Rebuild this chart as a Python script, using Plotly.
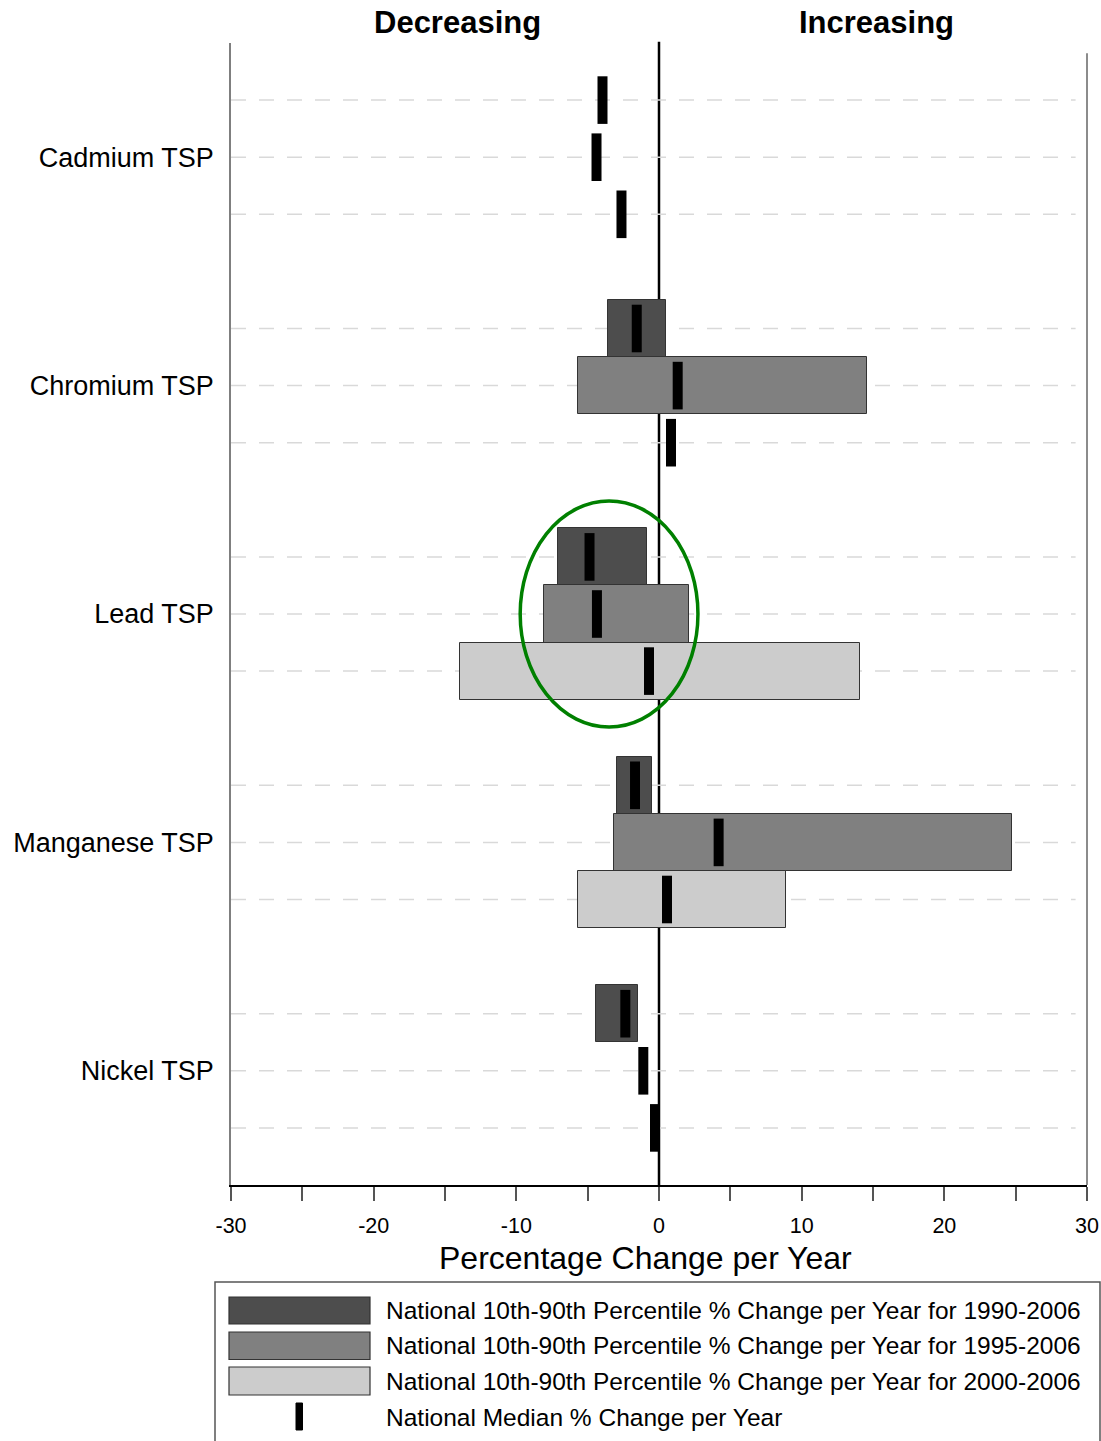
import plotly.graph_objects as go

# ---------------- data ----------------
categories = ["Cadmium TSP", "Chromium TSP", "Lead TSP", "Manganese TSP", "Nickel TSP"]

p10_1990 = [None, -3.56, -7.09, -2.96, -4.43]
p90_1990 = [None, 0.50, -0.83, -0.48, -1.49]
p10_1995 = [None, -5.69, -8.09, -3.17, None]
p90_1995 = [None, 14.56, 2.12, 24.72, None]
p10_2000 = [None, None, -13.98, -5.69, None]
p90_2000 = [None, None, 14.10, 8.91, None]

med_1990 = [-3.96, -1.56, -4.87, -1.68, -2.36]
med_1995 = [-4.38, 1.31, -4.35, 4.18, -1.10]
med_2000 = [-2.63, 0.84, -0.70, 0.56, -0.28]

x_tick_vals = [-30, -25, -20, -15, -10, -5, 0, 5, 10, 15, 20, 25, 30]
x_tick_text = ["-30", "", "-20", "", "-10", "", "0", "", "10", "", "20", "", "30"]

legend_labels = [
    "National 10th-90th Percentile % Change per Year for 1990-2006",
    "National 10th-90th Percentile % Change per Year for 1995-2006",
    "National 10th-90th Percentile % Change per Year for 2000-2006",
    "National Median % Change per Year",
]

colors = ["#4d4d4d", "#808080", "#cccccc"]
FONT = "Arial, Liberation Sans, sans-serif"

# y positions: category centre, sub-rows above/below
centers = [-4 * i for i in range(len(categories))]
offsets = [1, 0, -1]

fig = go.Figure()

periods = [(p10_1990, p90_1990), (p10_1995, p90_1995), (p10_2000, p90_2000)]
for k, (lo, hi) in enumerate(periods):
    ys, bases, lens = [], [], []
    for i, c in enumerate(centers):
        if lo[i] is not None and hi[i] is not None:
            ys.append(c + offsets[k])
            bases.append(lo[i])
            lens.append(hi[i] - lo[i])
    fig.add_trace(go.Bar(
        y=ys, x=lens, base=bases, orientation="h", width=1.0,
        marker=dict(color=colors[k], line=dict(color="#333333", width=1)),
        showlegend=False, hoverinfo="skip",
    ))

for k, med in enumerate([med_1990, med_1995, med_2000]):
    fig.add_trace(go.Scatter(
        x=med, y=[c + offsets[k] for c in centers], mode="markers",
        marker=dict(symbol="line-ns", size=34, color="black",
                    line=dict(color="black", width=10)),
        showlegend=False, hoverinfo="skip",
    ))

shapes = []
# dashed row lines
for c in centers:
    for o in offsets:
        shapes.append(dict(type="line", xref="x", yref="y", x0=-30, x1=29.2,
                           y0=c + o, y1=c + o, layer="below",
                           line=dict(color="#d9d9d9", width=1.5, dash="15px,13px")))
# zero line
shapes.append(dict(type="line", xref="x", yref="paper", x0=0, x1=0, y0=0, y1=1.001,
                   layer="below", line=dict(color="black", width=2.5)))
# right border line
shapes.append(dict(type="line", xref="paper", yref="paper", x0=1, x1=1, y0=0, y1=0.991,
                   line=dict(color="#666666", width=1.5)))
# green ellipse
shapes.append(dict(type="circle", xref="x", yref="y", x0=-9.73, x1=2.73, y0=-9.98, y1=-6.02,
                   line=dict(color="#008000", width=3.5)))

# manual legend (paper coords)
def px_x(p):
    return (p - 231) / 856.0

def px_y(p):
    return (1185 - p) / 1142.0

shapes.append(dict(type="rect", xref="paper", yref="paper",
                   x0=px_x(215), x1=px_x(1100), y0=px_y(1282), y1=px_y(1450),
                   line=dict(color="#555555", width=1.5), fillcolor="rgba(0,0,0,0)"))
sw_rows = [(1297, 1324), (1332, 1359.5), (1367, 1395)]
for k, (t, b) in enumerate(sw_rows):
    shapes.append(dict(type="rect", xref="paper", yref="paper",
                       x0=px_x(229), x1=px_x(370), y0=px_y(b), y1=px_y(t),
                       fillcolor=colors[k], line=dict(color="#333333", width=1.2)))
shapes.append(dict(type="rect", xref="paper", yref="paper",
                   x0=px_x(296), x1=px_x(302.5), y0=px_y(1430), y1=px_y(1403),
                   fillcolor="black", line=dict(color="black", width=1)))

annotations = []
for k, (lab, yc) in enumerate(zip(legend_labels, [1310, 1345, 1381, 1417])):
    annotations.append(dict(text=lab, xref="paper", yref="paper", x=px_x(384), y=px_y(yc),
                            xanchor="left", yanchor="middle", showarrow=False,
                            font=dict(family=FONT, size=24.5, color="black")))

annotations.append(dict(text="Percentage Change per Year", xref="paper", yref="paper",
                        x=px_x(645), y=px_y(1258), xanchor="center", yanchor="middle",
                        showarrow=False, font=dict(family=FONT, size=32, color="black")))
annotations.append(dict(text="<b>Decreasing</b>", xref="paper", yref="paper",
                        x=px_x(457), y=px_y(23), xanchor="center", yanchor="middle",
                        showarrow=False, font=dict(family=FONT, size=31, color="black")))
annotations.append(dict(text="<b>Increasing</b>", xref="paper", yref="paper",
                        x=px_x(876), y=px_y(23), xanchor="center", yanchor="middle",
                        showarrow=False, font=dict(family=FONT, size=31, color="black")))

fig.update_layout(
    width=1101, height=1441, autosize=False,
    margin=dict(l=231, r=14, t=43, b=256, autoexpand=False),
    paper_bgcolor="white", plot_bgcolor="white",
    barmode="overlay", bargap=0,
    showlegend=False,
    shapes=shapes, annotations=annotations,
    font=dict(family=FONT, color="black"),
    xaxis=dict(range=[-30, 30], tickvals=x_tick_vals, ticktext=x_tick_text,
               ticks="outside", ticklen=14, tickwidth=1.5, tickcolor="#555555",
               showgrid=False, zeroline=False, showline=True, linecolor="black",
               linewidth=1.5, ticklabelstandoff=6, automargin=False,
               tickfont=dict(family=FONT, size=21.5, color="black"),
               fixedrange=True),
    yaxis=dict(range=[-18, 2], tickvals=centers, ticktext=categories,
               ticks="", showgrid=False, zeroline=False, showline=True,
               linecolor="#7f7f7f", linewidth=1.5, ticklabelstandoff=10, automargin=False,
               tickfont=dict(family=FONT, size=27, color="black"), fixedrange=True),
)

fig.write_html("out.html", config={"responsive": False})
